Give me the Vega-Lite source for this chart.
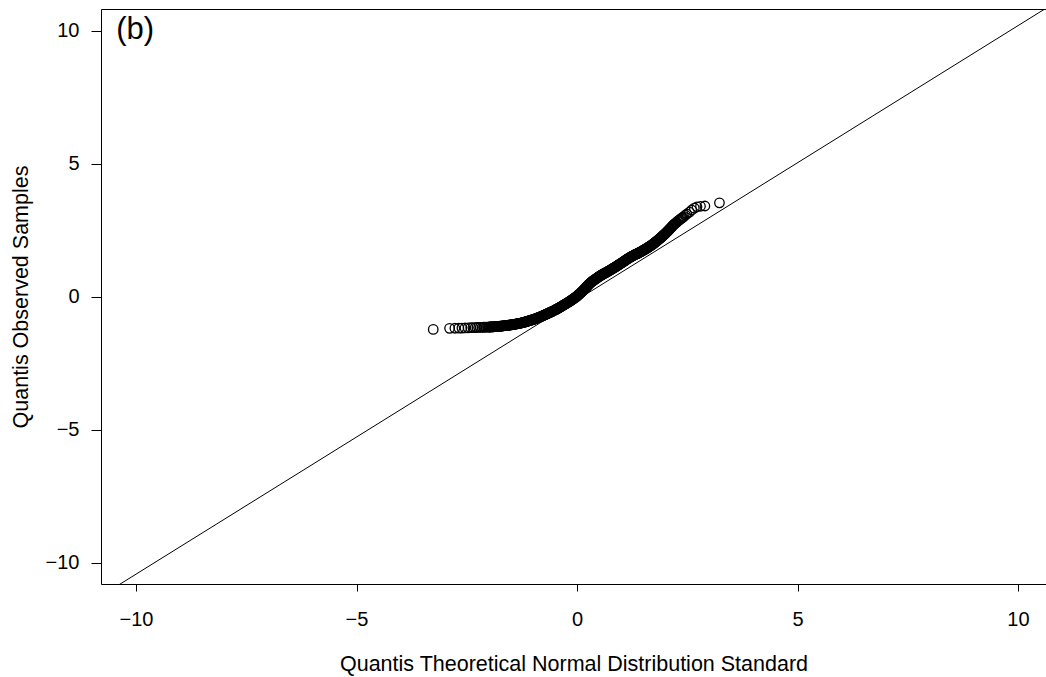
{
  "$schema": "https://vega.github.io/schema/vega-lite/v6.json",
  "autosize": "none",
  "padding": {"left": 101, "top": 9, "right": 0, "bottom": 93},
  "width": 945,
  "height": 575,
  "background": "white",
  "config": {
    "view": {"stroke": "black", "strokeWidth": 1},
    "font": "Liberation Sans"
  },
  "datasets": {
    "qq": [
      {"theo": -3.26, "obs": -1.23}, {"theo": -2.89, "obs": -1.19}, {"theo": -2.77, "obs": -1.185}, {"theo": -2.68, "obs": -1.18},
      {"theo": -2.61, "obs": -1.18}, {"theo": -2.54, "obs": -1.175}, {"theo": -2.47, "obs": -1.17}, {"theo": -2.41, "obs": -1.165},
      {"theo": -2.36, "obs": -1.16}, {"theo": -2.31, "obs": -1.16}, {"theo": -2.27, "obs": -1.155}, {"theo": -2.23, "obs": -1.155},
      {"theo": -2.19, "obs": -1.15}, {"theo": -2.15, "obs": -1.15}, {"theo": -2.12, "obs": -1.148}, {"theo": -2.09, "obs": -1.146},
      {"theo": -2.06, "obs": -1.144}, {"theo": -2.03, "obs": -1.142},
      {"theo": -2.000, "obs": -1.140}, {"theo": -1.975, "obs": -1.138}, {"theo": -1.950, "obs": -1.135}, {"theo": -1.925, "obs": -1.133},
      {"theo": -1.900, "obs": -1.130}, {"theo": -1.875, "obs": -1.128}, {"theo": -1.850, "obs": -1.125}, {"theo": -1.825, "obs": -1.123},
      {"theo": -1.800, "obs": -1.120}, {"theo": -1.775, "obs": -1.115}, {"theo": -1.750, "obs": -1.110}, {"theo": -1.725, "obs": -1.105},
      {"theo": -1.700, "obs": -1.100}, {"theo": -1.675, "obs": -1.095}, {"theo": -1.650, "obs": -1.090}, {"theo": -1.625, "obs": -1.085},
      {"theo": -1.600, "obs": -1.080}, {"theo": -1.575, "obs": -1.075}, {"theo": -1.550, "obs": -1.070}, {"theo": -1.525, "obs": -1.065},
      {"theo": -1.500, "obs": -1.060}, {"theo": -1.475, "obs": -1.053}, {"theo": -1.450, "obs": -1.045}, {"theo": -1.425, "obs": -1.038},
      {"theo": -1.400, "obs": -1.030}, {"theo": -1.375, "obs": -1.023}, {"theo": -1.350, "obs": -1.015}, {"theo": -1.325, "obs": -1.008},
      {"theo": -1.300, "obs": -1.000}, {"theo": -1.275, "obs": -0.990}, {"theo": -1.250, "obs": -0.980}, {"theo": -1.225, "obs": -0.970},
      {"theo": -1.200, "obs": -0.960}, {"theo": -1.175, "obs": -0.948}, {"theo": -1.150, "obs": -0.935}, {"theo": -1.125, "obs": -0.923},
      {"theo": -1.100, "obs": -0.910}, {"theo": -1.075, "obs": -0.898}, {"theo": -1.050, "obs": -0.885}, {"theo": -1.025, "obs": -0.873},
      {"theo": -1.000, "obs": -0.860}, {"theo": -0.975, "obs": -0.845}, {"theo": -0.950, "obs": -0.830}, {"theo": -0.925, "obs": -0.815},
      {"theo": -0.900, "obs": -0.800}, {"theo": -0.875, "obs": -0.783}, {"theo": -0.850, "obs": -0.765}, {"theo": -0.825, "obs": -0.748},
      {"theo": -0.800, "obs": -0.730}, {"theo": -0.775, "obs": -0.713}, {"theo": -0.750, "obs": -0.695}, {"theo": -0.725, "obs": -0.678},
      {"theo": -0.700, "obs": -0.660}, {"theo": -0.675, "obs": -0.640}, {"theo": -0.650, "obs": -0.620}, {"theo": -0.625, "obs": -0.600},
      {"theo": -0.600, "obs": -0.580}, {"theo": -0.575, "obs": -0.560}, {"theo": -0.550, "obs": -0.540}, {"theo": -0.525, "obs": -0.520},
      {"theo": -0.500, "obs": -0.500}, {"theo": -0.475, "obs": -0.478}, {"theo": -0.450, "obs": -0.455}, {"theo": -0.425, "obs": -0.433},
      {"theo": -0.400, "obs": -0.410}, {"theo": -0.375, "obs": -0.385}, {"theo": -0.350, "obs": -0.360}, {"theo": -0.325, "obs": -0.335},
      {"theo": -0.300, "obs": -0.310}, {"theo": -0.275, "obs": -0.285}, {"theo": -0.250, "obs": -0.260}, {"theo": -0.225, "obs": -0.235},
      {"theo": -0.200, "obs": -0.210}, {"theo": -0.175, "obs": -0.183}, {"theo": -0.150, "obs": -0.155}, {"theo": -0.125, "obs": -0.128},
      {"theo": -0.100, "obs": -0.100}, {"theo": -0.075, "obs": -0.070}, {"theo": -0.050, "obs": -0.040}, {"theo": -0.025, "obs": -0.010},
      {"theo": 0.000, "obs": 0.020}, {"theo": 0.025, "obs": 0.058}, {"theo": 0.050, "obs": 0.095}, {"theo": 0.075, "obs": 0.133},
      {"theo": 0.100, "obs": 0.170}, {"theo": 0.125, "obs": 0.213}, {"theo": 0.150, "obs": 0.255}, {"theo": 0.175, "obs": 0.298},
      {"theo": 0.200, "obs": 0.340}, {"theo": 0.225, "obs": 0.385}, {"theo": 0.250, "obs": 0.430}, {"theo": 0.275, "obs": 0.475},
      {"theo": 0.300, "obs": 0.515}, {"theo": 0.325, "obs": 0.550}, {"theo": 0.350, "obs": 0.582}, {"theo": 0.375, "obs": 0.612},
      {"theo": 0.400, "obs": 0.640}, {"theo": 0.425, "obs": 0.670}, {"theo": 0.450, "obs": 0.700}, {"theo": 0.475, "obs": 0.730},
      {"theo": 0.500, "obs": 0.760}, {"theo": 0.525, "obs": 0.785}, {"theo": 0.550, "obs": 0.810}, {"theo": 0.575, "obs": 0.835},
      {"theo": 0.600, "obs": 0.860}, {"theo": 0.625, "obs": 0.883}, {"theo": 0.650, "obs": 0.905}, {"theo": 0.675, "obs": 0.928},
      {"theo": 0.700, "obs": 0.950}, {"theo": 0.725, "obs": 0.975}, {"theo": 0.750, "obs": 1.000}, {"theo": 0.775, "obs": 1.025},
      {"theo": 0.800, "obs": 1.050}, {"theo": 0.825, "obs": 1.075}, {"theo": 0.850, "obs": 1.100}, {"theo": 0.875, "obs": 1.125},
      {"theo": 0.900, "obs": 1.150}, {"theo": 0.925, "obs": 1.178}, {"theo": 0.950, "obs": 1.205}, {"theo": 0.975, "obs": 1.233},
      {"theo": 1.000, "obs": 1.260}, {"theo": 1.025, "obs": 1.288}, {"theo": 1.050, "obs": 1.315}, {"theo": 1.075, "obs": 1.343},
      {"theo": 1.100, "obs": 1.370}, {"theo": 1.125, "obs": 1.398}, {"theo": 1.150, "obs": 1.425}, {"theo": 1.175, "obs": 1.453},
      {"theo": 1.200, "obs": 1.480}, {"theo": 1.225, "obs": 1.503}, {"theo": 1.250, "obs": 1.525}, {"theo": 1.275, "obs": 1.548},
      {"theo": 1.300, "obs": 1.570}, {"theo": 1.325, "obs": 1.590}, {"theo": 1.350, "obs": 1.610}, {"theo": 1.375, "obs": 1.630},
      {"theo": 1.400, "obs": 1.650}, {"theo": 1.425, "obs": 1.673}, {"theo": 1.450, "obs": 1.695}, {"theo": 1.475, "obs": 1.718},
      {"theo": 1.500, "obs": 1.740}, {"theo": 1.525, "obs": 1.765}, {"theo": 1.550, "obs": 1.790}, {"theo": 1.575, "obs": 1.815},
      {"theo": 1.600, "obs": 1.840}, {"theo": 1.625, "obs": 1.868}, {"theo": 1.650, "obs": 1.895}, {"theo": 1.675, "obs": 1.923},
      {"theo": 1.700, "obs": 1.950}, {"theo": 1.725, "obs": 1.983}, {"theo": 1.750, "obs": 2.015}, {"theo": 1.775, "obs": 2.048},
      {"theo": 1.800, "obs": 2.080}, {"theo": 1.825, "obs": 2.115}, {"theo": 1.850, "obs": 2.150}, {"theo": 1.875, "obs": 2.185},
      {"theo": 1.900, "obs": 2.220}, {"theo": 1.925, "obs": 2.258}, {"theo": 1.950, "obs": 2.295}, {"theo": 1.975, "obs": 2.333},
      {"theo": 2.000, "obs": 2.370}, {"theo": 2.025, "obs": 2.413}, {"theo": 2.050, "obs": 2.455}, {"theo": 2.075, "obs": 2.498},
      {"theo": 2.100, "obs": 2.540}, {"theo": 2.125, "obs": 2.585}, {"theo": 2.150, "obs": 2.630}, {"theo": 2.175, "obs": 2.675},
      {"theo": 2.200, "obs": 2.720}, {"theo": 2.23, "obs": 2.76}, {"theo": 2.26, "obs": 2.80}, {"theo": 2.30, "obs": 2.86},
      {"theo": 2.34, "obs": 2.91}, {"theo": 2.38, "obs": 2.96}, {"theo": 2.42, "obs": 3.01}, {"theo": 2.46, "obs": 3.07},
      {"theo": 2.49, "obs": 3.11}, {"theo": 2.55, "obs": 3.18}, {"theo": 2.60, "obs": 3.26}, {"theo": 2.66, "obs": 3.33},
      {"theo": 2.72, "obs": 3.38}, {"theo": 2.80, "obs": 3.40}, {"theo": 2.90, "obs": 3.41}, {"theo": 3.23, "obs": 3.53},
      {"theo": -1.9875, "obs": -1.139}, {"theo": -1.9625, "obs": -1.1365}, {"theo": -1.9375, "obs": -1.134}, {"theo": -1.9125, "obs": -1.1315},
      {"theo": -1.8875, "obs": -1.129}, {"theo": -1.8625, "obs": -1.1265}, {"theo": -1.8375, "obs": -1.124}, {"theo": -1.8125, "obs": -1.1215},
      {"theo": -1.7875, "obs": -1.1175}, {"theo": -1.7625, "obs": -1.1125}, {"theo": -1.7375, "obs": -1.1075}, {"theo": -1.7125, "obs": -1.1025},
      {"theo": -1.6875, "obs": -1.0975}, {"theo": -1.6625, "obs": -1.0925}, {"theo": -1.6375, "obs": -1.0875}, {"theo": -1.6125, "obs": -1.0825},
      {"theo": -1.5875, "obs": -1.0775}, {"theo": -1.5625, "obs": -1.0725}, {"theo": -1.5375, "obs": -1.0675}, {"theo": -1.5125, "obs": -1.0625},
      {"theo": -1.4875, "obs": -1.0565}, {"theo": -1.4625, "obs": -1.049}, {"theo": -1.4375, "obs": -1.0415}, {"theo": -1.4125, "obs": -1.034},
      {"theo": -1.3875, "obs": -1.0265}, {"theo": -1.3625, "obs": -1.019}, {"theo": -1.3375, "obs": -1.0115}, {"theo": -1.3125, "obs": -1.004},
      {"theo": -1.2875, "obs": -0.995}, {"theo": -1.2625, "obs": -0.985}, {"theo": -1.2375, "obs": -0.975}, {"theo": -1.2125, "obs": -0.965},
      {"theo": -1.1875, "obs": -0.954}, {"theo": -1.1625, "obs": -0.9415}, {"theo": -1.1375, "obs": -0.929}, {"theo": -1.1125, "obs": -0.9165},
      {"theo": -1.0875, "obs": -0.904}, {"theo": -1.0625, "obs": -0.8915}, {"theo": -1.0375, "obs": -0.879}, {"theo": -1.0125, "obs": -0.8665},
      {"theo": -0.9875, "obs": -0.8525}, {"theo": -0.9625, "obs": -0.8375}, {"theo": -0.9375, "obs": -0.8225}, {"theo": -0.9125, "obs": -0.8075},
      {"theo": -0.8875, "obs": -0.7915}, {"theo": -0.8625, "obs": -0.774}, {"theo": -0.8375, "obs": -0.7565}, {"theo": -0.8125, "obs": -0.739},
      {"theo": -0.7875, "obs": -0.7215}, {"theo": -0.7625, "obs": -0.704}, {"theo": -0.7375, "obs": -0.6865}, {"theo": -0.7125, "obs": -0.669},
      {"theo": -0.6875, "obs": -0.65}, {"theo": -0.6625, "obs": -0.63}, {"theo": -0.6375, "obs": -0.61}, {"theo": -0.6125, "obs": -0.59},
      {"theo": -0.5875, "obs": -0.57}, {"theo": -0.5625, "obs": -0.55}, {"theo": -0.5375, "obs": -0.53}, {"theo": -0.5125, "obs": -0.51},
      {"theo": -0.4875, "obs": -0.489}, {"theo": -0.4625, "obs": -0.4665}, {"theo": -0.4375, "obs": -0.444}, {"theo": -0.4125, "obs": -0.4215},
      {"theo": -0.3875, "obs": -0.3975}, {"theo": -0.3625, "obs": -0.3725}, {"theo": -0.3375, "obs": -0.3475}, {"theo": -0.3125, "obs": -0.3225},
      {"theo": -0.2875, "obs": -0.2975}, {"theo": -0.2625, "obs": -0.2725}, {"theo": -0.2375, "obs": -0.2475}, {"theo": -0.2125, "obs": -0.2225},
      {"theo": -0.1875, "obs": -0.1965}, {"theo": -0.1625, "obs": -0.169}, {"theo": -0.1375, "obs": -0.1415}, {"theo": -0.1125, "obs": -0.114},
      {"theo": -0.0875, "obs": -0.085}, {"theo": -0.0625, "obs": -0.055}, {"theo": -0.0375, "obs": -0.025}, {"theo": -0.0125, "obs": 0.005},
      {"theo": 0.0125, "obs": 0.039}, {"theo": 0.0375, "obs": 0.0765}, {"theo": 0.0625, "obs": 0.114}, {"theo": 0.0875, "obs": 0.1515},
      {"theo": 0.1125, "obs": 0.1915}, {"theo": 0.1375, "obs": 0.234}, {"theo": 0.1625, "obs": 0.2765}, {"theo": 0.1875, "obs": 0.319},
      {"theo": 0.2125, "obs": 0.3625}, {"theo": 0.2375, "obs": 0.4075}, {"theo": 0.2625, "obs": 0.4525}, {"theo": 0.2875, "obs": 0.495},
      {"theo": 0.3125, "obs": 0.5325}, {"theo": 0.3375, "obs": 0.566}, {"theo": 0.3625, "obs": 0.597}, {"theo": 0.3875, "obs": 0.626},
      {"theo": 0.4125, "obs": 0.655}, {"theo": 0.4375, "obs": 0.685}, {"theo": 0.4625, "obs": 0.715}, {"theo": 0.4875, "obs": 0.745},
      {"theo": 0.5125, "obs": 0.7725}, {"theo": 0.5375, "obs": 0.7975}, {"theo": 0.5625, "obs": 0.8225}, {"theo": 0.5875, "obs": 0.8475},
      {"theo": 0.6125, "obs": 0.8715}, {"theo": 0.6375, "obs": 0.894}, {"theo": 0.6625, "obs": 0.9165}, {"theo": 0.6875, "obs": 0.939},
      {"theo": 0.7125, "obs": 0.9625}, {"theo": 0.7375, "obs": 0.9875}, {"theo": 0.7625, "obs": 1.0125}, {"theo": 0.7875, "obs": 1.0375},
      {"theo": 0.8125, "obs": 1.0625}, {"theo": 0.8375, "obs": 1.0875}, {"theo": 0.8625, "obs": 1.1125}, {"theo": 0.8875, "obs": 1.1375},
      {"theo": 0.9125, "obs": 1.164}, {"theo": 0.9375, "obs": 1.1915}, {"theo": 0.9625, "obs": 1.219}, {"theo": 0.9875, "obs": 1.2465},
      {"theo": 1.0125, "obs": 1.274}, {"theo": 1.0375, "obs": 1.3015}, {"theo": 1.0625, "obs": 1.329}, {"theo": 1.0875, "obs": 1.3565},
      {"theo": 1.1125, "obs": 1.384}, {"theo": 1.1375, "obs": 1.4115}, {"theo": 1.1625, "obs": 1.439}, {"theo": 1.1875, "obs": 1.4665},
      {"theo": 1.2125, "obs": 1.4915}, {"theo": 1.2375, "obs": 1.514}, {"theo": 1.2625, "obs": 1.5365}, {"theo": 1.2875, "obs": 1.559},
      {"theo": 1.3125, "obs": 1.58}, {"theo": 1.3375, "obs": 1.6}, {"theo": 1.3625, "obs": 1.62}, {"theo": 1.3875, "obs": 1.64},
      {"theo": 1.4125, "obs": 1.6615}, {"theo": 1.4375, "obs": 1.684}, {"theo": 1.4625, "obs": 1.7065}, {"theo": 1.4875, "obs": 1.729},
      {"theo": 1.5125, "obs": 1.7525}, {"theo": 1.5375, "obs": 1.7775}, {"theo": 1.5625, "obs": 1.8025}, {"theo": 1.5875, "obs": 1.8275},
      {"theo": 1.6125, "obs": 1.854}, {"theo": 1.6375, "obs": 1.8815}, {"theo": 1.6625, "obs": 1.909}, {"theo": 1.6875, "obs": 1.9365},
      {"theo": 1.7125, "obs": 1.9665}, {"theo": 1.7375, "obs": 1.999}, {"theo": 1.7625, "obs": 2.0315}, {"theo": 1.7875, "obs": 2.064},
      {"theo": 1.8125, "obs": 2.0975}, {"theo": 1.8375, "obs": 2.1325}, {"theo": 1.8625, "obs": 2.1675}, {"theo": 1.8875, "obs": 2.2025},
      {"theo": 1.9125, "obs": 2.239}, {"theo": 1.9375, "obs": 2.2765}, {"theo": 1.9625, "obs": 2.314}, {"theo": 1.9875, "obs": 2.3515},
      {"theo": 2.0125, "obs": 2.3915}, {"theo": 2.0375, "obs": 2.434}, {"theo": 2.0625, "obs": 2.4765}, {"theo": 2.0875, "obs": 2.519},
      {"theo": 2.1125, "obs": 2.5625}, {"theo": 2.1375, "obs": 2.6075}, {"theo": 2.1625, "obs": 2.6525}, {"theo": 2.1875, "obs": 2.6975},
      {"theo": 2.215, "obs": 2.74}, {"theo": 2.245, "obs": 2.78}, {"theo": 2.28, "obs": 2.83}, {"theo": 2.32, "obs": 2.885},
      {"theo": 2.36, "obs": 2.935}, {"theo": 2.40, "obs": 2.985}
    ],
    "refline": [
      {"theo": -10.8, "obs": -11.255},
      {"theo": 10.8, "obs": 11.015}
    ],
    "panel": [
      {"label": "(b)", "theo": -10.45, "obs": 9.67}
    ]
  },
  "layer": [
    {
      "data": {"name": "refline"},
      "mark": {"type": "line", "color": "black", "strokeWidth": 1, "clip": true},
      "encoding": {
        "x": {
          "field": "theo", "type": "quantitative",
          "scale": {"domain": [-10.794, 10.635], "nice": false, "zero": false},
          "axis": {
            "values": [-10, -5, 0, 5, 10],
            "grid": false, "domain": false,
            "tickSize": 7, "tickColor": "black", "tickWidth": 1,
            "labelFontSize": 20, "labelColor": "black", "labelPadding": 18,
            "labelFont": "Liberation Sans",
            "title": "Quantis Theoretical Normal Distribution Standard",
            "titleFont": "Liberation Sans", "titleFontSize": 21.5, "titleFontWeight": "normal",
            "titleColor": "black", "titleY": 86, "titleBaseline": "alphabetic"
          }
        },
        "y": {
          "field": "obs", "type": "quantitative",
          "scale": {"domain": [-10.80, 10.816], "nice": false, "zero": false},
          "axis": {
            "values": [-10, -5, 0, 5, 10],
            "grid": false, "domain": false,
            "tickSize": 10, "tickColor": "black", "tickWidth": 1,
            "labelFontSize": 20, "labelColor": "black", "labelPadding": 12,
            "labelFont": "Liberation Sans",
            "title": "Quantis Observed Samples",
            "titleFont": "Liberation Sans", "titleFontSize": 21.5, "titleFontWeight": "normal",
            "titleColor": "black", "titleX": -74, "titleY": 287.5,
            "titleAngle": -90, "titleAlign": "center", "titleBaseline": "alphabetic"
          }
        }
      }
    },
    {
      "data": {"name": "qq"},
      "mark": {"type": "point", "shape": "circle", "filled": false, "stroke": "black", "strokeWidth": 1.3, "size": 90, "opacity": 1},
      "encoding": {
        "x": {"field": "theo", "type": "quantitative"},
        "y": {"field": "obs", "type": "quantitative"}
      }
    },
    {
      "data": {"name": "panel"},
      "mark": {"type": "text", "align": "left", "baseline": "alphabetic", "fontSize": 31, "font": "Liberation Sans", "color": "black"},
      "encoding": {
        "x": {"field": "theo", "type": "quantitative"},
        "y": {"field": "obs", "type": "quantitative"},
        "text": {"field": "label"}
      }
    }
  ]
}
